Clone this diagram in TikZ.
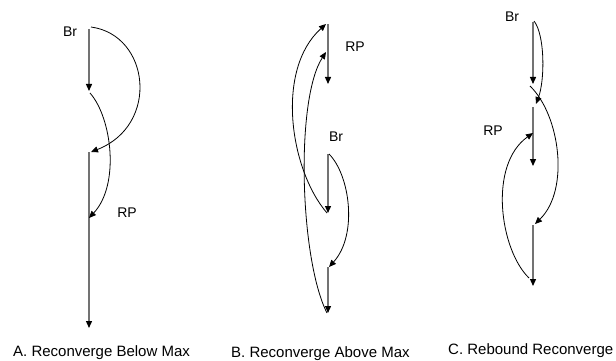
\documentclass[tikz,border=0pt]{standalone}
\usepackage{fontspec}
\setmainfont{Liberation Sans}
\usetikzlibrary{arrows.meta}
\begin{document}
\begin{tikzpicture}[x=1pt,y=-1pt,
  segline/.style={draw=black!55,line width=1.3pt,-{Triangle[length=7pt,width=6pt,color=black]}},
  curveline/.style={draw=black,line width=0.8pt,-{Triangle[length=7pt,width=6pt]}},
  lbl/.style={font=\fontsize{14}{16}\selectfont,inner sep=0pt},
  captxt/.style={font=\fontsize{15}{17}\selectfont,inner sep=0pt,anchor=base west}]
\useasboundingbox (0,0) rectangle (616,361);
% ---------- Panel A ----------
\coordinate (a1t) at (89,29);  \coordinate (a1b) at (89,91);
\coordinate (a2t) at (89,152); \coordinate (a2b) at (89,328);
\coordinate (aS1) at (91,27);  \coordinate (aE1) at (91,152);
\coordinate (aS2) at (90,93);  \coordinate (aE2) at (89,218);
\draw[segline] (a1t) -- (a1b);
\draw[segline] (a2t) -- (a2b);
\draw[curveline] (aS1) .. controls (150,35) and (160,125) .. (aE1);
\draw[curveline] (aS2) .. controls (112,118) and (120,185) .. (aE2);
\node[lbl] (aBr) at (70,32) {Br};
\node[lbl] (aRP) at (127,213) {RP};
\node[captxt] (capA) at (13,356) {A. Reconverge Below Max};
% ---------- Panel B ----------
\coordinate (b1t) at (328,24);  \coordinate (b1b) at (328,84);
\coordinate (b2t) at (328,154); \coordinate (b2b) at (328,213);
\coordinate (b3t) at (328,267); \coordinate (b3b) at (328,313);
\coordinate (bS1) at (327,213); \coordinate (bE1) at (326,24);
\coordinate (bS2) at (327,313); \coordinate (bE2) at (326,52);
\coordinate (bS3) at (329,154); \coordinate (bE3) at (329,267);
\draw[segline] (b1t) -- (b1b);
\draw[segline] (b2t) -- (b2b);
\draw[segline] (b3t) -- (b3b);
\draw[curveline] (bS1) .. controls (290,170) and (275,70) .. (bE1);
\draw[curveline] (bS2) .. controls (300,260) and (295,100) .. (bE2);
\draw[curveline] (bS3) .. controls (350,175) and (358,235) .. (bE3);
\node[lbl] (bRP) at (355,47) {RP};
\node[lbl] (bBr) at (336,137) {Br};
\node[captxt] (capB) at (231,357.6) {B. Reconverge Above Max};
% ---------- Panel C ----------
\coordinate (c1t) at (533,22);  \coordinate (c1b) at (533,84);
\coordinate (c2t) at (533,107); \coordinate (c2b) at (533,166);
\coordinate (c3t) at (533,225); \coordinate (c3b) at (533,286);
\coordinate (cS1) at (534,21);  \coordinate (cE1) at (536,104);
\coordinate (cS2) at (530,86);  \coordinate (cE2) at (535,224);
\coordinate (cS3) at (529,278); \coordinate (cE3) at (533,133);
\draw[segline] (c1t) -- (c1b);
\draw[segline] (c2t) -- (c2b);
\draw[segline] (c3t) -- (c3b);
\draw[curveline] (cS1) .. controls (545,35) and (545,80) .. (cE1);
\draw[curveline] (cS2) .. controls (560,115) and (570,190) .. (cE2);
\draw[curveline] (cS3) .. controls (500,250) and (488,165) .. (cE3);
\node[lbl] (cBr) at (512,17) {Br};
\node[lbl] (cRP) at (493,131) {RP};
\node[captxt] (capC) at (448,354) {C. Rebound Reconverge};
\end{tikzpicture}
\end{document}
